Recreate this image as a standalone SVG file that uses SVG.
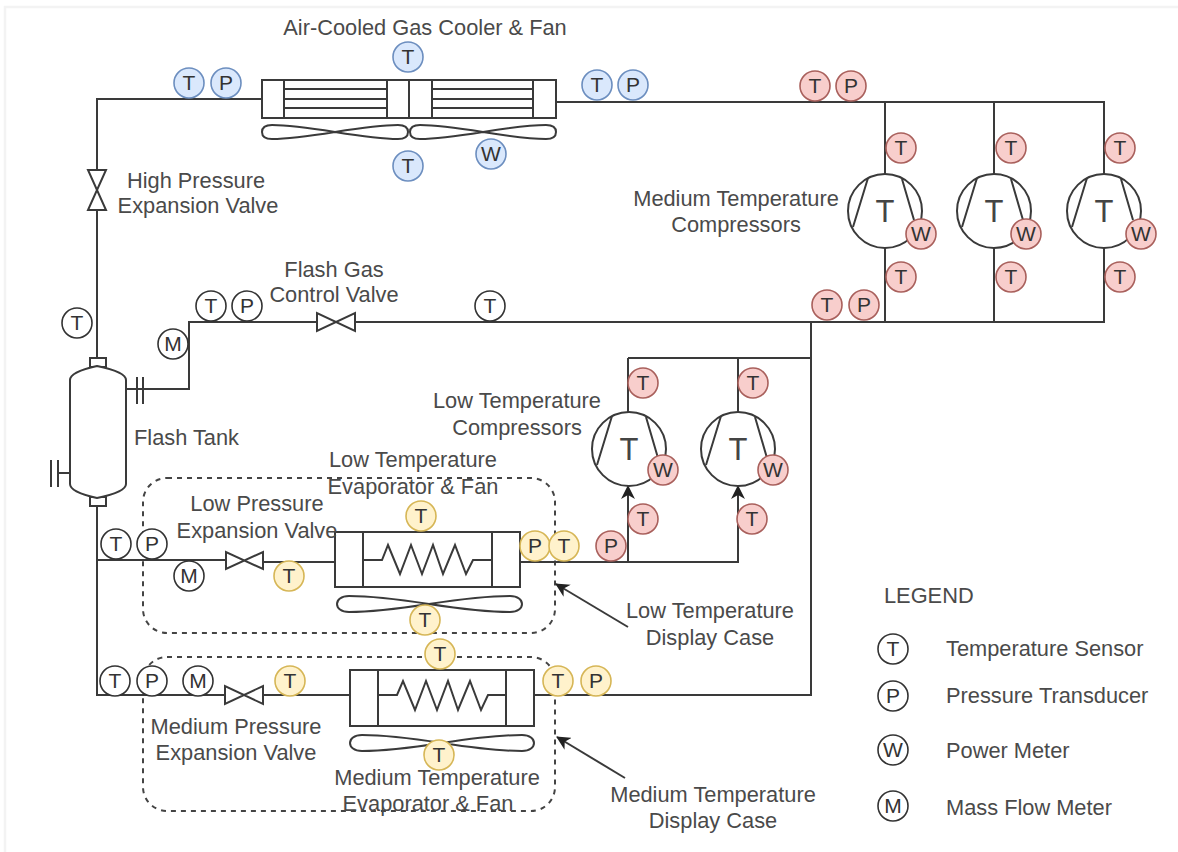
<svg xmlns="http://www.w3.org/2000/svg" width="1178" height="852" viewBox="0 0 1178 852">
<style>
text{font-family:"Liberation Sans",Arial,sans-serif;fill:#4a4a4a}
.l{font-size:21.8px;text-anchor:middle}
.s{font-size:21.8px}
.p,.n path,.n line,.n rect,.n circle{fill:none;stroke:#3a3a3a;stroke-width:2}
.n rect.w,.n circle.w,.n path.w{fill:#fff}
.d{fill:none;stroke:#444;stroke-width:2;stroke-dasharray:5 5}
.b circle,.r circle,.y circle,.k circle{stroke-width:1.6}
.b circle{fill:#dae8fc;stroke:#6c8ebf}
.r circle{fill:#f8cecc;stroke:#a9605c}
.y circle{fill:#fff2cc;stroke:#d6b656}
.k circle{fill:#fff;stroke:#333}
.b text,.r text,.y text,.k text{font-size:21px;text-anchor:middle;fill:#333}
.c{font-size:31px;text-anchor:middle;fill:#444}
</style>
<defs>
<marker id="a" markerWidth="15" markerHeight="14" refX="13" refY="7" orient="auto" markerUnits="userSpaceOnUse"><path d="M0,0L14,7L0,14L4,7Z" fill="#222"/></marker>
</defs>
<rect width="1178" height="852" fill="#fff"/>
<path d="M5,852V7H1178" fill="none" stroke="#f3f3f3" stroke-width="2.5"/>
<g id="zones">
<rect class="d" x="143" y="478" width="412" height="155" rx="24"/>
<rect class="d" x="143" y="657" width="412" height="154" rx="24"/>
</g>
<g id="connectors">
<path class="p" d="M262,99H97V170M97,210V360M97,498V695H225M263,695H350M534,695H811V322M556,102H1104V322H355M317,322H189V389H126"/>
<path class="p" d="M885,102V174M885,248V322M994,102V174M994,248V322M1104,102V174M1104,248V322"/>
<path class="p" d="M97,505V560H226M263,562H335M520,562H628M628,358H811M628,358V412M738,358V412M628,562H738V560"/>
<path class="p" d="M628,562V486" marker-end="url(#a)"/>
<path class="p" d="M738,562V486" marker-end="url(#a)"/>
<path class="p" d="M628,627L556,584" marker-end="url(#a)"/>
<path class="p" d="M625,778L557,737" marker-end="url(#a)"/>
<path class="p" d="M58,473H70"/>
</g>
<g id="gas-cooler" class="n">
<rect class="w" x="262" y="80" width="294" height="38"/>
<path d="M284,80V118M387,80V118M409,80V118M432,80V118M533,80V118M284,89H387M284,99H387M284,108H387M432,89H533M432,99H533M432,108H533"/>
<path d="M335,132C360,128 380,125 398,125C405,125 408,128 408,132C408,136 405,139 398,139C380,139 360,136 335,132C310,128 290,125 272,125C265,125 262,128 262,132C262,136 265,139 272,139C290,139 310,136 335,132Z"/>
<path d="M483,132C508,128 528,125 546,125C553,125 556,128 556,132C556,136 553,139 546,139C528,139 508,136 483,132C458,128 438,125 420,125C413,125 410,128 410,132C410,136 413,139 420,139C438,139 458,136 483,132Z"/>
</g>
<g id="hp-valve" class="n"><path class="w" d="M88,170H106L88,210H106Z"/></g>
<g id="fg-valve" class="n"><path class="w" d="M317,313V331L355,313V331Z"/></g>
<g id="lp-valve" class="n"><path class="w" d="M226,552V569L263,552V569Z"/></g>
<g id="mp-valve" class="n"><path class="w" d="M225,686V704L263,686V704Z"/></g>
<g id="flash-tank" class="n">
<rect class="w" x="90" y="358" width="16" height="9"/>
<rect class="w" x="90" y="497" width="16" height="9"/>
<path class="w" d="M70,380Q70,372 97,366Q126,372 126,380V484Q126,492 97,498Q70,492 70,484Z"/>
<path d="M137,377V404M143,377V404M51,460V487M58,460V487"/>
</g>
<g id="low-evaporator" class="n">
<rect class="w" x="335" y="532" width="185" height="55"/>
<path d="M363,532V587M492,532V587M363,560H382L388,545L400,574L411,545L422,574L433,545L443,574L455,545L466,574L473,560H492"/>
<path d="M429,604C455,600 485,596 510,596C518,596 522,600 522,604C522,608 518,612 510,612C485,612 455,608 429,604C403,600 373,596 349,596C341,596 337,600 337,604C337,608 341,612 349,612C373,612 403,608 429,604Z"/>
</g>
<g id="medium-evaporator" class="n">
<rect class="w" x="350" y="670" width="184" height="56"/>
<path d="M378,670V726M506,670V726M378,695H397L403,681L415,710L426,681L437,710L448,681L458,710L470,681L481,710L488,695H506"/>
<path d="M442,743C468,739 498,735 522,735C530,735 534,739 534,743C534,747 530,751 522,751C498,751 468,747 442,743C416,739 386,735 362,735C354,735 350,739 350,743C350,747 354,751 362,751C386,751 416,747 442,743Z"/>
</g>
<g id="mt-comp-1" class="n"><circle class="w" cx="885" cy="211" r="37"/><path d="M868,178L853,227M902,179L914,220"/><text class="c" x="885" y="222">T</text></g>
<g id="mt-comp-2" class="n"><circle class="w" cx="994" cy="211" r="37"/><path d="M977,178L962,227M1011,179L1023,220"/><text class="c" x="994" y="222">T</text></g>
<g id="mt-comp-3" class="n"><circle class="w" cx="1104" cy="211" r="37"/><path d="M1087,178L1072,227M1121,179L1133,220"/><text class="c" x="1104" y="222">T</text></g>
<g id="lt-comp-1" class="n"><circle class="w" cx="629" cy="449" r="37"/><path d="M612,416L597,465M646,417L658,458"/><text class="c" x="629" y="460">T</text></g>
<g id="lt-comp-2" class="n"><circle class="w" cx="738" cy="449" r="37"/><path d="M721,416L706,465M755,417L767,458"/><text class="c" x="738" y="460">T</text></g>
<g id="sensors-blue" class="b">
<g id="b1"><circle cx="189" cy="83" r="15"/><text x="189" y="90">T</text></g>
<g id="b2"><circle cx="226" cy="83" r="15"/><text x="226" y="90">P</text></g>
<g id="b3"><circle cx="408" cy="57" r="15"/><text x="408" y="64">T</text></g>
<g id="b4"><circle cx="408" cy="166" r="15"/><text x="408" y="173">T</text></g>
<g id="b5"><circle cx="491" cy="154" r="15"/><text x="491" y="161">W</text></g>
<g id="b6"><circle cx="597" cy="85" r="15"/><text x="597" y="92">T</text></g>
<g id="b7"><circle cx="633" cy="85" r="15"/><text x="633" y="92">P</text></g>
</g>
<g id="sensors-red" class="r">
<g id="r1"><circle cx="815" cy="86" r="15"/><text x="815" y="93">T</text></g>
<g id="r2"><circle cx="851" cy="86" r="15"/><text x="851" y="93">P</text></g>
<g id="r3"><circle cx="901" cy="148" r="15"/><text x="901" y="155">T</text></g>
<g id="r4"><circle cx="1011" cy="148" r="15"/><text x="1011" y="155">T</text></g>
<g id="r5"><circle cx="1120" cy="148" r="15"/><text x="1120" y="155">T</text></g>
<g id="r6"><circle cx="921" cy="234" r="15"/><text x="921" y="241">W</text></g>
<g id="r7"><circle cx="1026" cy="234" r="15"/><text x="1026" y="241">W</text></g>
<g id="r8"><circle cx="1141" cy="234" r="15"/><text x="1141" y="241">W</text></g>
<g id="r9"><circle cx="901" cy="277" r="15"/><text x="901" y="284">T</text></g>
<g id="r10"><circle cx="1011" cy="277" r="15"/><text x="1011" y="284">T</text></g>
<g id="r11"><circle cx="1120" cy="277" r="15"/><text x="1120" y="284">T</text></g>
<g id="r12"><circle cx="827" cy="305" r="15"/><text x="827" y="312">T</text></g>
<g id="r13"><circle cx="864" cy="305" r="15"/><text x="864" y="312">P</text></g>
<g id="r14"><circle cx="643" cy="383" r="15"/><text x="643" y="390">T</text></g>
<g id="r15"><circle cx="753" cy="383" r="15"/><text x="753" y="390">T</text></g>
<g id="r16"><circle cx="663" cy="470" r="15"/><text x="663" y="477">W</text></g>
<g id="r17"><circle cx="773" cy="470" r="15"/><text x="773" y="477">W</text></g>
<g id="r18"><circle cx="643" cy="519" r="15"/><text x="643" y="526">T</text></g>
<g id="r19"><circle cx="752" cy="519" r="15"/><text x="752" y="526">T</text></g>
<g id="r20"><circle cx="611" cy="546" r="15"/><text x="611" y="553">P</text></g>
</g>
<g id="sensors-yellow" class="y">
<g id="y1"><circle cx="421" cy="516" r="15"/><text x="421" y="523">T</text></g>
<g id="y2"><circle cx="535" cy="546" r="15"/><text x="535" y="553">P</text></g>
<g id="y3"><circle cx="564" cy="546" r="15"/><text x="564" y="553">T</text></g>
<g id="y4"><circle cx="289" cy="576" r="15"/><text x="289" y="583">T</text></g>
<g id="y5"><circle cx="425" cy="620" r="15"/><text x="425" y="627">T</text></g>
<g id="y6"><circle cx="440" cy="654" r="15"/><text x="440" y="661">T</text></g>
<g id="y7"><circle cx="290" cy="681" r="15"/><text x="290" y="688">T</text></g>
<g id="y8"><circle cx="558" cy="681" r="15"/><text x="558" y="688">T</text></g>
<g id="y9"><circle cx="596" cy="681" r="15"/><text x="596" y="688">P</text></g>
<g id="y10"><circle cx="439" cy="755" r="15"/><text x="439" y="762">T</text></g>
</g>
<g id="sensors-black" class="k">
<g id="k1"><circle cx="77" cy="323" r="15"/><text x="77" y="330">T</text></g>
<g id="k2"><circle cx="211" cy="306" r="15"/><text x="211" y="313">T</text></g>
<g id="k3"><circle cx="247" cy="306" r="15"/><text x="247" y="313">P</text></g>
<g id="k4"><circle cx="173" cy="344" r="15"/><text x="173" y="351">M</text></g>
<g id="k5"><circle cx="490" cy="306" r="15"/><text x="490" y="313">T</text></g>
<g id="k6"><circle cx="116" cy="544" r="15"/><text x="116" y="551">T</text></g>
<g id="k7"><circle cx="152" cy="544" r="15"/><text x="152" y="551">P</text></g>
<g id="k8"><circle cx="189" cy="576" r="15"/><text x="189" y="583">M</text></g>
<g id="k9"><circle cx="115" cy="681" r="15"/><text x="115" y="688">T</text></g>
<g id="k10"><circle cx="152" cy="681" r="15"/><text x="152" y="688">P</text></g>
<g id="k11"><circle cx="198" cy="681" r="15"/><text x="198" y="688">M</text></g>
<g id="k12"><circle cx="893" cy="649" r="15"/><text x="893" y="656">T</text></g>
<g id="k13"><circle cx="893" cy="696" r="15"/><text x="893" y="703">P</text></g>
<g id="k14"><circle cx="893" cy="750" r="15"/><text x="893" y="757">W</text></g>
<g id="k15"><circle cx="893" cy="806" r="15"/><text x="893" y="813">M</text></g>
</g>
<g id="labels">
<text class="l" x="425" y="35">Air-Cooled Gas Cooler &amp; Fan</text>
<text class="l" x="196" y="188">High Pressure</text><text class="l" x="198" y="213">Expansion Valve</text>
<text class="l" x="736" y="206">Medium Temperature</text><text class="l" x="736" y="232">Compressors</text>
<text class="l" x="334" y="277">Flash Gas</text><text class="l" x="334" y="302">Control Valve</text>
<text class="l" x="517" y="408">Low Temperature</text><text class="l" x="517" y="435">Compressors</text>
<text class="s" x="134" y="445">Flash Tank</text>
<text class="l" x="413" y="467">Low Temperature</text><text class="l" x="413" y="494">Evaporator &amp; Fan</text>
<text class="l" x="257" y="511">Low Pressure</text><text class="l" x="257" y="538">Expansion Valve</text>
<text class="l" x="710" y="618">Low Temperature</text><text class="l" x="710" y="645">Display Case</text>
<text class="l" x="236" y="734">Medium Pressure</text><text class="l" x="236" y="760">Expansion Valve</text>
<text class="l" x="437" y="785">Medium Temperature</text><text class="l" x="428" y="811">Evaporator &amp; Fan</text>
<text class="l" x="713" y="802">Medium Temperature</text><text class="l" x="713" y="828">Display Case</text>
<text class="s" x="884" y="603">LEGEND</text>
<text class="s" x="946" y="656">Temperature Sensor</text>
<text class="s" x="946" y="703">Pressure Transducer</text>
<text class="s" x="946" y="758">Power Meter</text>
<text class="s" x="946" y="815">Mass Flow Meter</text>
</g>
</svg>
